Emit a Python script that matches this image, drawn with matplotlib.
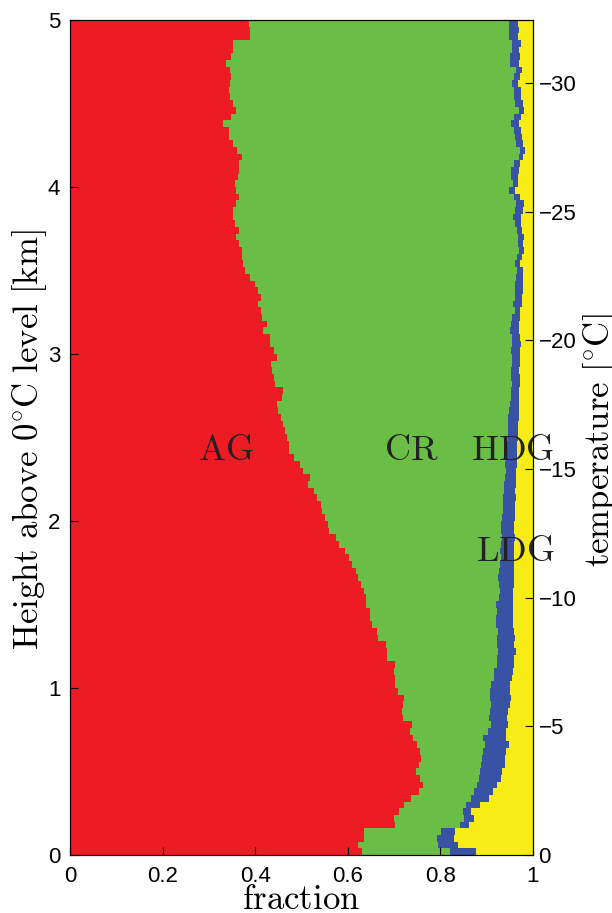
import numpy as np
import matplotlib
matplotlib.use('Agg')
import matplotlib.pyplot as plt

plt.rcParams['font.family'] = ['Liberation Sans', 'DejaVu Sans']
plt.rcParams['mathtext.fontset'] = 'cm'

# fractions per 40 m height bin, from 0 km (first) up to 5 km (last)
bin_km = 0.04
ag = [.631, .621, .634, .634, .703, .700, .711, .722, .737, .754,
      .763, .756, .748, .754, .759, .756, .750, .741, .735, .739,
      .720, .718, .720, .722, .709, .703, .703, .700, .703, .685,
      .685, .683, .666, .664, .653, .647, .647, .640, .640, .634,
      .629, .623, .618, .610, .603, .595, .582, .575, .560, .558,
      .550, .545, .542, .534, .526, .513, .519, .504, .496, .483,
      .474, .474, .468, .465, .461, .455, .450, .448, .457, .461,
      .442, .440, .437, .435, .448, .440, .433, .433, .416, .425,
      .414, .412, .407, .412, .405, .399, .388, .377, .373, .371,
      .371, .366, .358, .364, .356, .351, .353, .358, .366, .358,
      .356, .362, .366, .364, .371, .360, .351, .343, .343, .330,
      .347, .358, .351, .345, .343, .345, .347, .345, .338, .347,
      .353, .353, .388, .388, .386]
cr = [.190, .174, .159, .167, .139, .151, .138, .133, .129, .119,
      .116, .127, .138, .134, .131, .136, .146, .151, .168, .170,
      .185, .189, .189, .185, .198, .206, .213, .216, .219, .237,
      .239, .239, .256, .260, .267, .273, .275, .280, .287, .295,
      .298, .301, .309, .319, .328, .334, .349, .358, .371, .373,
      .383, .390, .393, .401, .411, .424, .421, .438, .444, .459,
      .468, .470, .478, .481, .485, .491, .498, .502, .495, .491,
      .513, .512, .515, .520, .507, .512, .522, .522, .534, .527,
      .541, .549, .550, .549, .556, .562, .575, .588, .588, .594,
      .599, .602, .610, .601, .605, .606, .608, .605, .593, .590,
      .601, .590, .586, .595, .599, .612, .612, .618, .616, .622,
      .612, .612, .610, .614, .616, .610, .612, .618, .612, .603,
      .602, .602, .560, .560, .562]
hdg = [.056, .043, .036, .031, .020, .022, .017, .031, .039, .041,
       .043, .048, .047, .052, .050, .050, .052, .050, .039, .037,
       .039, .039, .041, .045, .043, .041, .039, .041, .037, .037,
       .039, .037, .039, .035, .037, .037, .035, .037, .030, .028,
       .032, .035, .032, .030, .028, .030, .028, .028, .028, .028,
       .028, .026, .026, .028, .024, .026, .023, .021, .025, .023,
       .023, .021, .022, .022, .022, .024, .022, .020, .018, .018,
       .017, .020, .018, .017, .017, .020, .019, .017, .020, .018,
       .017, .011, .019, .015, .017, .017, .015, .013, .011, .011,
       .011, .010, .013, .011, .013, .017, .017, .018, .013, .013,
       .011, .016, .018, .013, .008, .011, .015, .015, .015, .018,
       .015, .011, .017, .015, .015, .013, .013, .013, .020, .022,
       .015, .019, .020, .022, .020]
ldg = [.123, .162, .171, .168, .138, .127, .134, .114, .095, .086,
       .078, .069, .067, .060, .060, .058, .052, .058, .058, .054,
       .056, .054, .050, .048, .050, .050, .045, .043, .041, .041,
       .037, .041, .039, .041, .043, .043, .043, .043, .043, .043,
       .041, .041, .041, .041, .041, .041, .041, .039, .041, .041,
       .039, .039, .039, .037, .039, .037, .037, .037, .035, .035,
       .035, .035, .032, .032, .032, .030, .030, .030, .030, .030,
       .028, .028, .030, .028, .028, .028, .026, .028, .030, .030,
       .028, .028, .024, .024, .022, .022, .022, .022, .028, .024,
       .019, .022, .019, .024, .026, .026, .022, .019, .028, .039,
       .032, .032, .030, .028, .022, .017, .022, .024, .026, .030,
       .026, .019, .022, .026, .026, .032, .028, .024, .030, .028,
       .030, .026, .032, .030, .032]

classes = ['AG', 'CR', 'HDG', 'LDG']
colors = ['#ED1C24', '#6ABD45', '#3953A4', '#F7EC16']
x_ticks = [0, 0.2, 0.4, 0.6, 0.8, 1]
h_ticks = [0, 1, 2, 3, 4, 5]
t_ticks = [0, -5, -10, -15, -20, -25, -30]
t_top = -32.44  # temperature at 5 km

stack = np.vstack([ag, cr, hdg, ldg])
stack = stack / stack.sum(axis=0)
cum = np.vstack([np.zeros(stack.shape[1]), np.cumsum(stack, axis=0)])
edges = np.arange(stack.shape[1] + 1) * bin_km

fig = plt.figure(figsize=(6.12, 9.13), dpi=100)
ax = fig.add_axes([0.1144, 0.0635, 0.7565, 0.9146])
for i, c in enumerate(colors):
    ax.stairs(cum[i + 1], edges, baseline=cum[i], fill=True,
              orientation='horizontal', color=c, lw=0)

ax.set_xlim(0, 1)
ax.set_ylim(0, 5)
ax.set_xticks(x_ticks)
ax.set_xticklabels(['0', '0.2', '0.4', '0.6', '0.8', '1'])
ax.set_yticks(h_ticks)
ax.tick_params(direction='in', labelsize=16, length=6, right=False)
ax.tick_params(axis='x', pad=8)
ax.tick_params(axis='y', pad=7)
ax.set_xlabel(r'$\mathrm{fraction}$', fontsize=25, labelpad=-3)
ax.set_ylabel(r'$\mathrm{Height\ above\ 0^{\circ}C\ level\ [km]}$', fontsize=25)
ax.yaxis.set_label_coords(-0.045, 0.497)

ax2 = ax.twinx()
ax2.set_ylim(0, t_top)
ax2.set_yticks(t_ticks)
ax2.tick_params(direction='in', labelsize=16, length=6, pad=4)
ax2.set_ylabel(r'$\mathrm{temperature\ [^{\circ}C]}$', fontsize=25)
ax2.yaxis.set_label_coords(1.103, 0.497)

lbl = dict(fontsize=26, ha='center', va='center', color='#222222')
ax.text(0.337, 2.42, r'$\mathrm{AG}$', **lbl)
ax.text(0.737, 2.42, r'$\mathrm{CR}$', **lbl)
ax.text(0.955, 2.42, r'$\mathrm{HDG}$', **lbl)
ax.text(0.962, 1.82, r'$\mathrm{LDG}$', **lbl)

fig.savefig('out.png', dpi=100)
